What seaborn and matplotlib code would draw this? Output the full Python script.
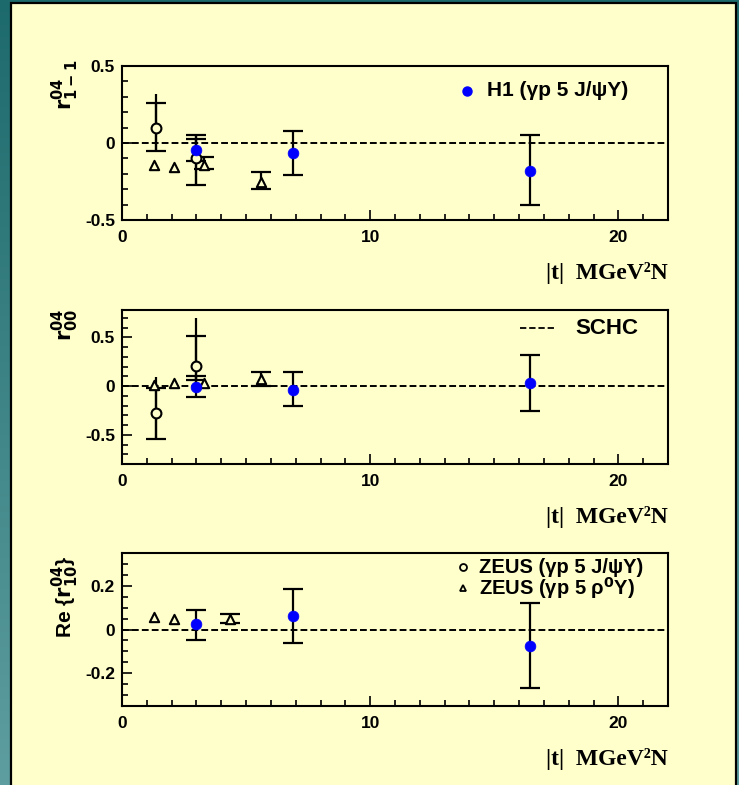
import numpy as np
import pandas as pd
import matplotlib
matplotlib.use("Agg")
import matplotlib.pyplot as plt
import seaborn as sns
from matplotlib.patches import Rectangle
from matplotlib.ticker import MultipleLocator, FixedLocator, FuncFormatter
from matplotlib.colors import LinearSegmentedColormap

# ---------------- data ----------------
# |t| bin centres (GeV^2)
h1_t = [3.0, 6.9, 16.45]
zeus_psi_t = [1.37, 2.97]
zeus_rho_t = [1.29, 2.1, 3.3, 5.6]
zeus_rho_t_re = [1.29, 2.1, 4.34]

# r^04_{1-1}
h1_r1m1 = [-0.045, -0.065, -0.18]
h1_r1m1_up = [0.07, 0.145, 0.235]
h1_r1m1_dn = [0.07, 0.14, 0.22]
psi_r1m1 = [0.10, -0.10]
psi_r1m1_stat_up = [0.16, 0.15]
psi_r1m1_stat_dn = [0.15, 0.17]
psi_r1m1_tot_up = [0.22, 0.15]
psi_r1m1_tot_dn = [0.15, 0.17]
rho_r1m1 = [-0.14, -0.155, -0.14, -0.25]
rho_r1m1_up = [0.0, 0.0, 0.05, 0.06]
rho_r1m1_dn = [0.0, 0.0, 0.03, 0.05]

# r^04_{00}
h1_r00 = [-0.01, -0.04, 0.035]
h1_r00_up = [0.11, 0.18, 0.28]
h1_r00_dn = [0.10, 0.17, 0.29]
psi_r00 = [-0.28, 0.21]
psi_r00_stat_up = [0.26, 0.30]
psi_r00_stat_dn = [0.26, 0.15]
psi_r00_tot_up = [0.376, 0.49]
psi_r00_tot_dn = [0.26, 0.20]
rho_r00 = [0.01, 0.035, 0.035, 0.07]
rho_r00_up = [0.0, 0.0, 0.0, 0.07]
rho_r00_dn = [0.0, 0.0, 0.0, 0.07]

# Re r^04_{10}
h1_r10 = [0.023, 0.06, -0.077]
h1_r10_up = [0.067, 0.125, 0.20]
h1_r10_dn = [0.073, 0.12, 0.19]
rho_r10 = [0.056, 0.049, 0.049]
rho_r10_up = [0.0, 0.0, 0.02]
rho_r10_dn = [0.0, 0.0, 0.02]

ylabels = [r"$r^{04}_{1-1}$", r"$r^{04}_{00}$", r"Re {$r^{04}_{10}$}"]
xlabel = "|t|  MGeV²N"
legend_h1 = "H1 (γp 5 J/ψY)"
legend_schc = "SCHC"
legend_zpsi = "ZEUS (γp 5 J/ψY)"
legend_zrho = "ZEUS (γp 5 ρ$^{0}$Y)"

# ---------------- style ----------------
PANEL = "#FFFFCC"
BLUE = "#0000FF"
sns.set_style("ticks")
plt.rcParams["font.family"] = ["Liberation Sans", "DejaVu Sans"]
plt.rcParams["font.weight"] = "bold"
plt.rcParams["mathtext.default"] = "bf"
plt.rcParams["axes.unicode_minus"] = False
plt.rcParams["text.color"] = "black"
plt.rcParams["axes.labelcolor"] = "black"

fig = plt.figure(figsize=(7.39, 7.85), dpi=100)

# teal gradient backdrop
bg = fig.add_axes([0, 0, 1, 1], zorder=-10)
grad = np.linspace(0, 1, 256).reshape(-1, 1)
cmap = LinearSegmentedColormap.from_list("teal", ["#1d6a6c", "#5e9ea0"])
bg.imshow(grad, aspect="auto", cmap=cmap, extent=[0, 1, 0, 1], origin="upper")
bg.axis("off")

# pale yellow sheet
fig.patches.append(Rectangle((11 / 739, -0.02), (736 - 11) / 739, (782 / 785) + 0.02,
                             transform=fig.transFigure, facecolor=PANEL,
                             edgecolor="black", lw=1.6, zorder=-5))

left = 122 / 739
width = 546 / 739
boxes = [(220, 154), (464, 154), (706, 153)]
axes = []
for bot, h in boxes:
    ax = fig.add_axes([left, (785 - bot) / 785, width, h / 785])
    axes.append(ax)

DASH = (0, (3.5, 1.6))


def style_axis(ax, ylim, major, minor, label, lab_y):
    ax.set_facecolor(PANEL)
    ax.set_xlim(0, 22)
    ax.set_ylim(*ylim)
    for s in ["top", "right", "left", "bottom"]:
        ax.spines[s].set_linewidth(1.5)
        ax.spines[s].set_color("black")
    ax.xaxis.set_major_locator(FixedLocator([0, 10, 20]))
    ax.xaxis.set_minor_locator(MultipleLocator(1))
    ax.yaxis.set_major_locator(FixedLocator(major))
    ax.yaxis.set_minor_locator(MultipleLocator(minor))
    ax.yaxis.set_major_formatter(FuncFormatter(lambda v, p: f"{v:g}"))
    ax.tick_params(axis="both", which="both", direction="in", colors="black",
                   labelsize=12.5, top=False, right=False)
    ax.tick_params(axis="both", which="major", length=7, width=1.2)
    ax.tick_params(axis="both", which="minor", length=4.5, width=1.2)
    ax.tick_params(axis="x", which="major", pad=7)
    ax.tick_params(axis="y", which="major", pad=5)
    for t in ax.get_xticklabels() + ax.get_yticklabels():
        t.set_fontweight("heavy")
    ax.set_xlabel("")
    ax.set_ylabel(label, fontsize=15, rotation=90, va="center", ha="center",
                  fontweight="bold", color="black")
    ax.yaxis.set_label_coords(-0.103, lab_y)
    ax.text(1.0, -0.344, xlabel, transform=ax.transAxes, ha="right", va="center",
            fontsize=17, fontweight="bold", family=["Liberation Serif", "DejaVu Serif"])
    ax.axhline(0, color="black", ls=DASH, lw=1.4, zorder=1)


def err(ax, x, y, up, dn, caps=True):
    x = np.asarray(x); y = np.asarray(y); up = np.asarray(up); dn = np.asarray(dn)
    keep = (up > 0) | (dn > 0)
    if keep.any():
        ax.errorbar(x[keep], y[keep], yerr=[dn[keep], up[keep]], fmt="none",
                    ecolor="black", elinewidth=1.6, capsize=7 if caps else 0,
                    capthick=1.6, zorder=2)


def markers(ax, x, y, kind):
    df = pd.DataFrame({"t": x, "v": y})
    if kind == "h1":
        sns.scatterplot(data=df, x="t", y="v", ax=ax, marker="o", color=BLUE,
                        edgecolor=BLUE, s=60, linewidth=0.5, zorder=4, legend=False)
    elif kind == "psi":
        sns.scatterplot(data=df, x="t", y="v", ax=ax, marker="o", color=PANEL,
                        edgecolor="black", s=50, linewidth=1.5, zorder=3, legend=False)
    else:
        sns.scatterplot(data=df, x="t", y="v", ax=ax, marker="^", color=PANEL,
                        edgecolor="black", s=45, linewidth=1.5, zorder=3, legend=False)


# ---- panel 1: r04_{1-1}
ax = axes[0]
err(ax, zeus_psi_t, psi_r1m1, psi_r1m1_tot_up, psi_r1m1_tot_dn, caps=False)
err(ax, zeus_psi_t, psi_r1m1, psi_r1m1_stat_up, psi_r1m1_stat_dn)
err(ax, zeus_rho_t, rho_r1m1, rho_r1m1_up, rho_r1m1_dn)
err(ax, h1_t, h1_r1m1, h1_r1m1_up, h1_r1m1_dn)
markers(ax, zeus_psi_t, psi_r1m1, "psi")
markers(ax, zeus_rho_t, rho_r1m1, "rho")
markers(ax, h1_t, h1_r1m1, "h1")
style_axis(ax, (-0.5, 0.5), [-0.5, 0, 0.5], 0.1, ylabels[0], 0.877)
ax.plot([0.632], [0.838], "o", color=BLUE, ms=6.5, transform=ax.transAxes, clip_on=False)
ax.text(0.668, 0.838, legend_h1, transform=ax.transAxes, va="center", ha="left",
        fontsize=15, fontweight="heavy")

# ---- panel 2: r04_{00}
ax = axes[1]
err(ax, zeus_psi_t, psi_r00, psi_r00_tot_up, psi_r00_tot_dn, caps=False)
err(ax, zeus_psi_t, psi_r00, psi_r00_stat_up, psi_r00_stat_dn)
err(ax, zeus_rho_t, rho_r00, rho_r00_up, rho_r00_dn)
err(ax, h1_t, h1_r00, h1_r00_up, h1_r00_dn)
markers(ax, zeus_psi_t, psi_r00, "psi")
markers(ax, zeus_rho_t, rho_r00, "rho")
markers(ax, h1_t, h1_r00, "h1")
style_axis(ax, (-0.8, 0.78), [-0.5, 0, 0.5], 0.1, ylabels[1], 0.90)
ax.plot([0.729, 0.793], [0.883, 0.883], color="black", ls=DASH, lw=1.3,
        transform=ax.transAxes, clip_on=False)
ax.text(0.830, 0.883, legend_schc, transform=ax.transAxes, va="center", ha="left",
        fontsize=16, fontweight="heavy")

# ---- panel 3: Re r04_{10}
ax = axes[2]
err(ax, zeus_rho_t_re, rho_r10, rho_r10_up, rho_r10_dn)
err(ax, h1_t, h1_r10, h1_r10_up, h1_r10_dn)
markers(ax, zeus_rho_t_re, rho_r10, "rho")
markers(ax, h1_t, h1_r10, "h1")
style_axis(ax, (-0.35, 0.35), [-0.2, 0, 0.2], 0.05, ylabels[2], 0.71)
ax.plot([0.625], [0.908], "o", mfc=PANEL, mec="black", mew=1.3, ms=5,
        transform=ax.transAxes, clip_on=False)
ax.plot([0.625], [0.771], "^", mfc=PANEL, mec="black", mew=1.3, ms=4.5,
        transform=ax.transAxes, clip_on=False)
ax.text(0.654, 0.908, legend_zpsi, transform=ax.transAxes, va="center", ha="left",
        fontsize=14.5, fontweight="heavy")
ax.text(0.654, 0.771, legend_zrho, transform=ax.transAxes, va="center", ha="left",
        fontsize=14.5, fontweight="heavy")

fig.savefig("out.png", dpi=100, facecolor=fig.get_facecolor())
